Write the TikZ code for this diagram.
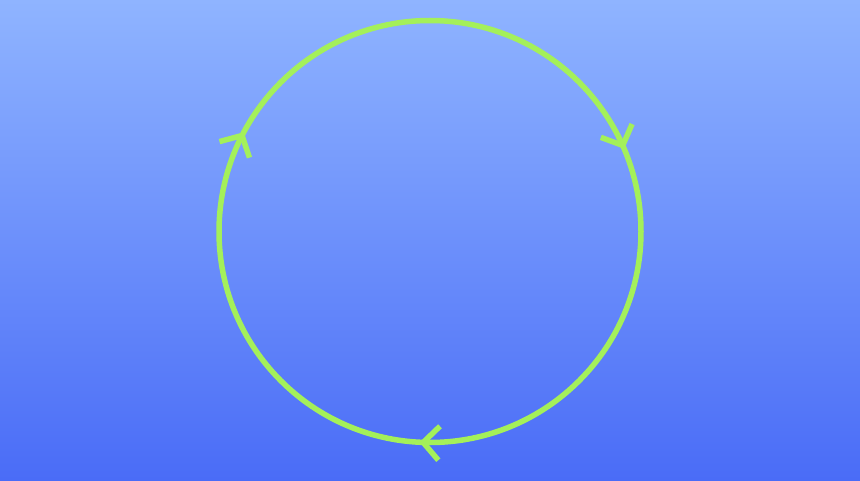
\documentclass[tikz,border=0pt]{standalone}
\usetikzlibrary{arrows.meta,decorations.markings}
\definecolor{skytop}{HTML}{8FB4FF}
\definecolor{skybottom}{HTML}{4A6CF7}
\definecolor{loopgreen}{HTML}{A4F05A}
\tikzset{
  /tikz/.cd,
  loopline/.style={draw=loopgreen,line width=5.5pt},
  looptip/.tip={Straight Barb[length=16pt,width=34pt,line width=5.5pt]}
}

\begin{document}
\begin{tikzpicture}[x=1pt,y=1pt,
                    flow/.style={decoration={markings,
                      mark=at position 0.186 with {\arrow[loopgreen]{looptip}},
                      mark=at position 0.508 with {\arrow[loopgreen]{looptip}},
                      mark=at position 0.828 with {\arrow[loopgreen]{looptip}}},
                      postaction={decorate}}]
  \shade [top color=skytop,bottom color=skybottom] (0,0) rectangle (860,480);
  \useasboundingbox (0,0) rectangle (860,480);

  \coordinate (centre) at (430,248.5);
  \draw[loopline,flow] (centre) ++(90:211) arc[start angle=90,end angle=-270,radius=211];
\end{tikzpicture}
\end{document}
